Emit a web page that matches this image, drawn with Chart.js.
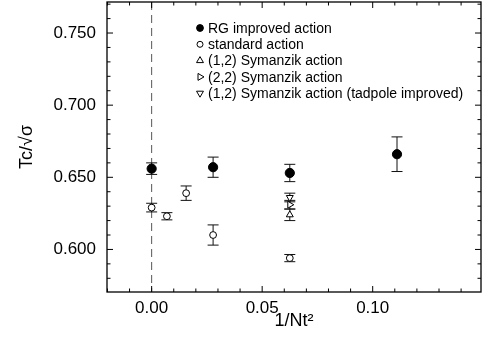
<!DOCTYPE html>
<html>
<head>
<meta charset="utf-8">
<script src="https://cdn.jsdelivr.net/npm/chart.js@4.4.0/dist/chart.umd.min.js"></script>
<style>
  html, body { margin: 0; padding: 0; background: #fff; }
</style>
</head>
<body>
<canvas id="tcChart" width="488" height="344"></canvas>
<script>
// values
let rgX = [0.0, 0.0278, 0.0625, 0.111];
let rgY = [0.656, 0.657, 0.653, 0.666];
let rgErr = [0.004, 0.007, 0.006, 0.012];

let stdX = [0.0, 0.0069, 0.0156, 0.0278, 0.0625];
let stdY = [0.629, 0.623, 0.639, 0.610, 0.594];
let stdErr = [0.003, 0.0025, 0.005, 0.007, 0.0025];

let sym12X = [0.0625];
let sym12Y = [0.624];
let sym12Err = [0.004];

let sym22X = [0.0625];
let sym22Y = [0.631];
let sym22Err = [0.003];

let symTadX = [0.0625];
let symTadY = [0.636];
let symTadErr = [0.003];

let xTicks = [0.0, 0.05, 0.1];
let yTicks = [0.6, 0.65, 0.7, 0.75];

const FONT = "'Liberation Sans', Arial, sans-serif";
Chart.defaults.font.family = FONT;
Chart.defaults.color = "#000";

function points(xs, ys) {
  return xs.map((x, i) => ({ x: x, y: ys[i] }));
}

// error bars drawn under the markers
const errorBars = {
  id: "errorBars",
  beforeDatasetsDraw(chart) {
    const ctx = chart.ctx;
    const ys = chart.scales.y;
    ctx.save();
    ctx.strokeStyle = "#111";
    ctx.lineWidth = 1;
    chart.data.datasets.forEach((ds, di) => {
      const meta = chart.getDatasetMeta(di);
      meta.data.forEach((pt, i) => {
        const e = ds.errors[i];
        const top = ys.getPixelForValue(ds.data[i].y + e);
        const bot = ys.getPixelForValue(ds.data[i].y - e);
        ctx.beginPath();
        ctx.moveTo(pt.x, top);
        ctx.lineTo(pt.x, bot);
        ctx.moveTo(pt.x - 5.5, top);
        ctx.lineTo(pt.x + 5.5, top);
        ctx.moveTo(pt.x - 5.5, bot);
        ctx.lineTo(pt.x + 5.5, bot);
        ctx.stroke();
      });
    });
    ctx.restore();
  },
};

// dashed line at x = 0, frame and inward ticks
const frame = {
  id: "frame",
  beforeDatasetsDraw(chart) {
    const ctx = chart.ctx;
    const a = chart.chartArea;
    const x0 = chart.scales.x.getPixelForValue(0);
    ctx.save();
    ctx.strokeStyle = "#555";
    ctx.lineWidth = 1;
    ctx.setLineDash([8, 5]);
    ctx.beginPath();
    ctx.moveTo(x0, a.top);
    ctx.lineTo(x0, a.bottom);
    ctx.stroke();
    ctx.restore();
  },
  afterDraw(chart) {
    const ctx = chart.ctx;
    const a = chart.chartArea;
    const xs = chart.scales.x;
    const ys = chart.scales.y;
    ctx.save();
    ctx.strokeStyle = "#000";
    ctx.lineWidth = 1.3;
    ctx.strokeRect(a.left, a.top, a.right - a.left, a.bottom - a.top);
    ctx.lineWidth = 1;
    ctx.beginPath();
    for (let k = -2; k <= 14; k++) {
      const px = xs.getPixelForValue(k / 100);
      const len = k % 5 === 0 ? 6 : 3.5;
      ctx.moveTo(px, a.bottom);
      ctx.lineTo(px, a.bottom - len);
      ctx.moveTo(px, a.top);
      ctx.lineTo(px, a.top + len);
    }
    for (let k = 58; k <= 77; k++) {
      const py = ys.getPixelForValue(k / 100);
      const len = k % 5 === 0 ? 6 : 3.5;
      ctx.moveTo(a.left, py);
      ctx.lineTo(a.left + len, py);
      ctx.moveTo(a.right, py);
      ctx.lineTo(a.right - len, py);
    }
    ctx.stroke();
    ctx.restore();
  },
};

// legend inside the plot
const legendBox = {
  id: "legendBox",
  afterDraw(chart) {
    const ctx = chart.ctx;
    ctx.save();
    ctx.font = "14px " + FONT;
    ctx.textBaseline = "middle";
    chart.data.datasets.forEach((ds, i) => {
      const y = 28 + i * 16.3;
      ctx.fillStyle = ds.backgroundColor;
      ctx.strokeStyle = "#000";
      ctx.lineWidth = 1;
      Chart.helpers.drawPoint(ctx, {
        pointStyle: ds.pointStyle,
        rotation: ds.pointRotation || 0,
        radius: ds.legendRadius,
        borderWidth: 1,
      }, 200, y);
      ctx.fillStyle = "#000";
      ctx.fillText(ds.label, 208, y + 1);
    });
    ctx.restore();
  },
};

let tcChart = new Chart(document.getElementById("tcChart"), {
  type: "scatter",
  data: {
    datasets: [
      {
        label: "RG improved action",
        data: points(rgX, rgY),
        errors: rgErr,
        pointStyle: "circle",
        pointRadius: 4.6,
        backgroundColor: "#000",
        borderColor: "#000",
        borderWidth: 1,
        legendRadius: 3.4,
      },
      {
        label: "standard action",
        data: points(stdX, stdY),
        errors: stdErr,
        pointStyle: "circle",
        pointRadius: 3.4,
        backgroundColor: "#fff",
        borderColor: "#000",
        borderWidth: 1,
        legendRadius: 3,
      },
      {
        label: "(1,2) Symanzik action",
        data: points(sym12X, sym12Y),
        errors: sym12Err,
        pointStyle: "triangle",
        pointRadius: 4,
        backgroundColor: "#fff",
        borderColor: "#000",
        borderWidth: 1,
        legendRadius: 4,
      },
      {
        label: "(2,2) Symanzik action",
        data: points(sym22X, sym22Y),
        errors: sym22Err,
        pointStyle: "triangle",
        pointRotation: 90,
        pointRadius: 4,
        backgroundColor: "#fff",
        borderColor: "#000",
        borderWidth: 1,
        legendRadius: 4,
      },
      {
        label: "(1,2) Symanzik action (tadpole improved)",
        data: points(symTadX, symTadY),
        errors: symTadErr,
        pointStyle: "triangle",
        pointRotation: 180,
        pointRadius: 4,
        backgroundColor: "#fff",
        borderColor: "#000",
        borderWidth: 1,
        legendRadius: 4,
      },
    ],
  },
  options: {
    responsive: false,
    animation: false,
    layout: { autoPadding: false, padding: { top: 2, right: 7, left: 0, bottom: 0 } },
    plugins: {
      legend: { display: false },
      tooltip: { enabled: false },
    },
    scales: {
      x: {
        type: "linear",
        min: -0.0202,
        max: 0.149,
        afterBuildTicks: (scale) => {
          scale.ticks = xTicks.map((v) => ({ value: v }));
        },
        afterFit: (scale) => {
          scale.height = 52;
          scale.paddingLeft = 0;
          scale.paddingRight = 0;
        },
        grid: { display: false, drawTicks: false },
        border: { display: false },
        ticks: {
          padding: 6,
          font: { size: 17 },
          color: "#000",
          maxRotation: 0,
          callback: (v) => v.toFixed(2),
        },
        title: {
          display: true,
          text: "1/Nt²",
          font: { size: 18 },
          color: "#000",
          padding: { top: 0, bottom: 12 },
        },
      },
      y: {
        type: "linear",
        min: 0.5705,
        max: 0.7715,
        afterBuildTicks: (scale) => {
          scale.ticks = yTicks.map((v) => ({ value: v }));
        },
        afterFit: (scale) => {
          scale.width = 107;
          scale.paddingTop = 0;
          scale.paddingBottom = 0;
        },
        grid: { display: false, drawTicks: false },
        border: { display: false },
        ticks: {
          padding: 11,
          font: { size: 17 },
          color: "#000",
          callback: (v) => v.toFixed(3),
        },
        title: {
          display: true,
          text: "Tc/√σ",
          font: { size: 18 },
          color: "#000",
          padding: { top: 16, bottom: 0 },
        },
      },
    },
  },
  plugins: [frame, errorBars, legendBox],
});
</script>
</body>
</html>
